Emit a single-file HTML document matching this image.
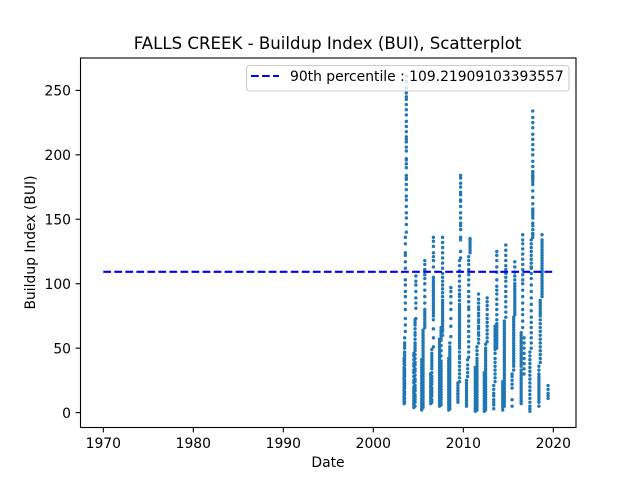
<!DOCTYPE html>
<html>
<head>
<meta charset="utf-8">
<title>FALLS CREEK - Buildup Index (BUI), Scatterplot</title>
<style>
html,body{margin:0;padding:0;background:#fff;}
svg{display:block;font-family:"DejaVu Sans","Liberation Sans",sans-serif;}
</style>
</head>
<body>
<svg id="chart" xmlns="http://www.w3.org/2000/svg" width="640" height="480" viewBox="0 0 640 480">
  <rect x="0" y="0" width="640" height="480" fill="#fff"/>
  <g id="points" fill="#1f77b4"></g>
  <line id="pctLine" stroke="#0000ff" stroke-width="2.08" stroke-dasharray="7.7 3.33"/>
  <rect x="80.5" y="58" width="495.5" height="369.5" fill="none" stroke="#000" stroke-width="1.1"/>
  <g id="xticks"></g>
  <g id="yticks"></g>
  <text x="327.6" y="49" font-size="16.6" text-anchor="middle" fill="#000">FALLS CREEK - Buildup Index (BUI), Scatterplot</text>
  <text x="328" y="467" font-size="13.89" text-anchor="middle" fill="#000">Date</text>
  <text transform="translate(35 242.5) rotate(-90)" font-size="13.89" text-anchor="middle" fill="#000">Buildup Index (BUI)</text>
  <g>
    <rect x="246.5" y="65.5" width="322.5" height="25.5" rx="3" ry="3" fill="#fff" fill-opacity="0.8" stroke="#cccccc" stroke-width="1.1"/>
    <line x1="251" y1="76" x2="279" y2="76" stroke="#0000ff" stroke-width="2.08" stroke-dasharray="7.7 3.33"/>
    <text id="legendText" x="290" y="81" font-size="13.89" fill="#000"></text>
  </g>
</svg>
<script>
const xTickYears = [1970, 1980, 1990, 2000, 2010, 2020];
const yTickValues = [0, 50, 100, 150, 200, 250];
const percentile90 = 109.21909103393557;
const percentileStart = 1970;
const percentileEnd = 2020;
const columnDates = [
  2003.42, 2003.48, 2003.56, 2003.67,
  2004.50, 2004.64, 2004.73,
  2005.38, 2005.53, 2005.72,
  2006.38, 2006.50, 2006.68,
  2007.36, 2007.53, 2007.70,
  2008.38, 2008.50, 2008.62,
  2009.40, 2009.58, 2009.70,
  2010.36, 2010.48, 2010.60, 2010.75,
  2011.33, 2011.52, 2011.70,
  2012.33, 2012.48, 2012.65,
  2013.38, 2013.53, 2013.72,
  2014.38, 2014.56, 2014.72,
  2015.42, 2015.60, 2015.72,
  2016.43, 2016.60, 2016.75,
  2017.40, 2017.55, 2017.72,
  2018.40, 2018.55, 2018.75,
  2019.42
];
const columnValues = [
  [7,9,10,12,13,15,17,18,20,22,24,26,27,29,31,33,35,38,40,42],
  [8,11,14,16,19,21,23,25,28,30,32,34,37,39,41,43,45,47,50,52,54,58],
  [63,68,73,80,85,90,94,99,103,112,117,122,124,131,136],
  [140,146,151,155,160,165,168,173,177,181,182,184,190,193,196,197,203,206,210,212,214,218,222,226,231,235,239,243,245,248,252,257,261],
  [4,6,7,9,11,13,15,16,18,20,23,25,28,31,33,36,38,41,44,46],
  [5,8,10,12,14,17,19,21,24,26,29,32,34,37,39,42,45,48,50,52,54,57,60,62,65,68,70,72],
  [73,81,85,89,94,99,102,106],
  [2,3,5,7,9,11,13,15,17,19,21,23,25,27,29,31,33,35,37,39,41],
  [4,6,8,10,12,14,16,18,20,22,24,26,28,30,32,34,36,38,40,42,44,46,48,50,52,54,56,58,60,62,64],
  [66,68,70,72,74,76,78,80,85,90,95,100,104,107,111,115,118],
  [7,9,11,12,14,16,18,20,21,23,25,27,29,30],
  [8,10,13,15,17,19,22,24,26,28,31,34,36,38,40,42,44,46,49],
  [51,58,65,72,75,77,79,81,83,85,87,89,91,93,95,97,99,101,103,105,113,118,121,124,129,133,136],
  [5,7,9,11,13,15,17,19,21,23,25,27,29,31,33,35,37,39,41,43,45,47,49,51,53,55,57],
  [6,8,10,12,14,16,18,20,22,24,26,28,30,32,34,36,38,40,44,48,52,56,58,60,62,64,66],
  [60,63,65,67,69,71,73,75,77,79,81,83,85,87,90,93,96,99,102,105,108,112,116,120,124,128,132,136],
  [2,4,6,8,10,12,14,16,18,20,22,24,26,28,30,32,34,36,38,40,42],
  [3,5,7,9,11,13,15,17,19,21,23,25,27,29,31,33,35,37,39,41,43,45,47,49,51,54],
  [59,67,73,80,85,90,94,97],
  [8,10,12,14,15,17,19,21,23],
  [24,27,30,33,36,39,42,44,47,50,52,54,56,58,60,62,64,66,68,70,72,74,76,78,80,82,84,87,90,92,95,98,102,106,110,114,118],
  [120,125,134,136,142,145,147,151,155,160,164,165,169,171,175,178,182,184],
  [5,7,9,11,13,15,17,19,21,23,25],
  [28,31,34,37,41],
  [43,47,51,55,59,63,67,71,75,80,82,86,90,94,99,103,107,111,115,118,121],
  [124,126,128,130,132,134,135],
  [1,3,5,7,9,11,13,15,17,19,21,23,25,27,29,31,33,35],
  [2,4,6,8,10,12,14,16,18,20,22,24,26,28,30,32,34,36,38,40,42,45,48,51],
  [54,57,60,62,65,67,70,72,75,77,80,82,85,88,92],
  [1,3,5,7,9,11,13,15,17,19,21,23,25,27,29,31],
  [2,4,6,8,10,12,14,16,18,20,22,24,26,28,30,32,34,36,38,40,42,44,46,48,50,53],
  [55,58,61,64,67,70,73,76,80,83,86,89],
  [3,6,8,10,13,15,18,21],
  [24,27,30,33,36,39,42,46,49,51,53,55,57,59,61,63,65,67],
  [50,52,54,56,58,60,62,64,66,68,69,72,76,80,84,88,92,95,98,103,109,113,118,122,125],
  [2,4,6,8,10,12,14,16,18,20,22,24],
  [5,7,9,11,13,15,17,19,21,23,25,27,29,31,33,35,37,39,41,43,45,47,49,51,53,55,57,59,61,63,65,67,69,71],
  [74,78,82,86,90,94,98,102,105,108,111,114,118,122,126,130],
  [5,10,19,22,25,28,30],
  [33,36,38,40,42,44,46,48,50,52,54,56,58,60,62,64,66,68,70,72,74],
  [76,78,80,82,84,86,88,90,92,94,96,98,100,103,106,109,113,117],
  [7,9,11,13,15,17,19,21,23,25,27,29,31,33,36,38,40,42,44,46,48,50,52,54,56,58,60,62],
  [66,71,76,80,85,90,95,100,103,107,111,115,119,123,127,131,134,138],
  [30,34,38,42,46,50,54,58],
  [1,3,5,8,11,14,17,20,23,26,29,32,35,38,41,44,47],
  [50,54,58,62,66,70,74,79,84,89,94,99,104,108,112,113,116,119,122,125,128,131,134],
  [136,138,139,142,145,147,151,153,155,157,158,162,167,172,177,179,181,182,183,184,186,187,191,195,200,204,208,212,216,221,225,229,234],
  [5,8,10,12,14,16,18,20,22,24,26,28,30,33,36],
  [39,42,45,48,51,54,57,60,63,66,69,72,75,77,79,81,83,85,87],
  [90,92,94,96,98,100,102,104,106,108,110,112,114,116,118,120,122,124,126,128,130,132,134,138],
  [11,13,15,18,21]
];

const svgNS = 'http://www.w3.org/2000/svg';
const axisLeft = 103.3, pxPerYear = 9.0;
const axisZero = 412.6, pxPerUnit = 1.2888;
function xScale(year) { return axisLeft + (year - 1970) * pxPerYear; }
function yScale(value) { return axisZero - value * pxPerUnit; }

const pointsGroup = document.getElementById('points');
columnDates.forEach(function (date, i) {
  columnValues[i].forEach(function (value) {
    const dot = document.createElementNS(svgNS, 'circle');
    
    
    dot.setAttribute('cx', xScale(date).toFixed(2));
    dot.setAttribute('cy', yScale(value).toFixed(2));
    dot.setAttribute('r', '1.7');
    pointsGroup.appendChild(dot);
  });
});

const pctLine = document.getElementById('pctLine');
pctLine.setAttribute('x1', xScale(percentileStart));
pctLine.setAttribute('x2', xScale(percentileEnd));
pctLine.setAttribute('y1', yScale(percentile90));
pctLine.setAttribute('y2', yScale(percentile90));
document.getElementById('legendText').textContent = '90th percentile : ' + percentile90;

const xTicksGroup = document.getElementById('xticks');
xTickYears.forEach(function (year) {
  const x = xScale(year);
  const tick = document.createElementNS(svgNS, 'line');
  
  
  tick.setAttribute('x1', x); tick.setAttribute('x2', x);
  tick.setAttribute('y1', 427.5); tick.setAttribute('y2', 432.4);
  tick.setAttribute('stroke', '#000'); tick.setAttribute('stroke-width', '1.1');
  xTicksGroup.appendChild(tick);
  const label = document.createElementNS(svgNS, 'text');
  
  
  label.setAttribute('x', x); label.setAttribute('y', 448);
  label.setAttribute('font-size', '13.89');
  label.setAttribute('text-anchor', 'middle');
  label.textContent = String(year);
  xTicksGroup.appendChild(label);
});

const yTicksGroup = document.getElementById('yticks');
yTickValues.forEach(function (value) {
  const y = yScale(value);
  const tick = document.createElementNS(svgNS, 'line');
  
  
  tick.setAttribute('x1', 75.6); tick.setAttribute('x2', 80.5);
  tick.setAttribute('y1', y); tick.setAttribute('y2', y);
  tick.setAttribute('stroke', '#000'); tick.setAttribute('stroke-width', '1.1');
  yTicksGroup.appendChild(tick);
  const label = document.createElementNS(svgNS, 'text');
  
  
  label.setAttribute('x', 71); label.setAttribute('y', y + 5.2);
  label.setAttribute('font-size', '13.89');
  label.setAttribute('text-anchor', 'end');
  label.textContent = String(value);
  yTicksGroup.appendChild(label);
});
</script>
</body>
</html>
